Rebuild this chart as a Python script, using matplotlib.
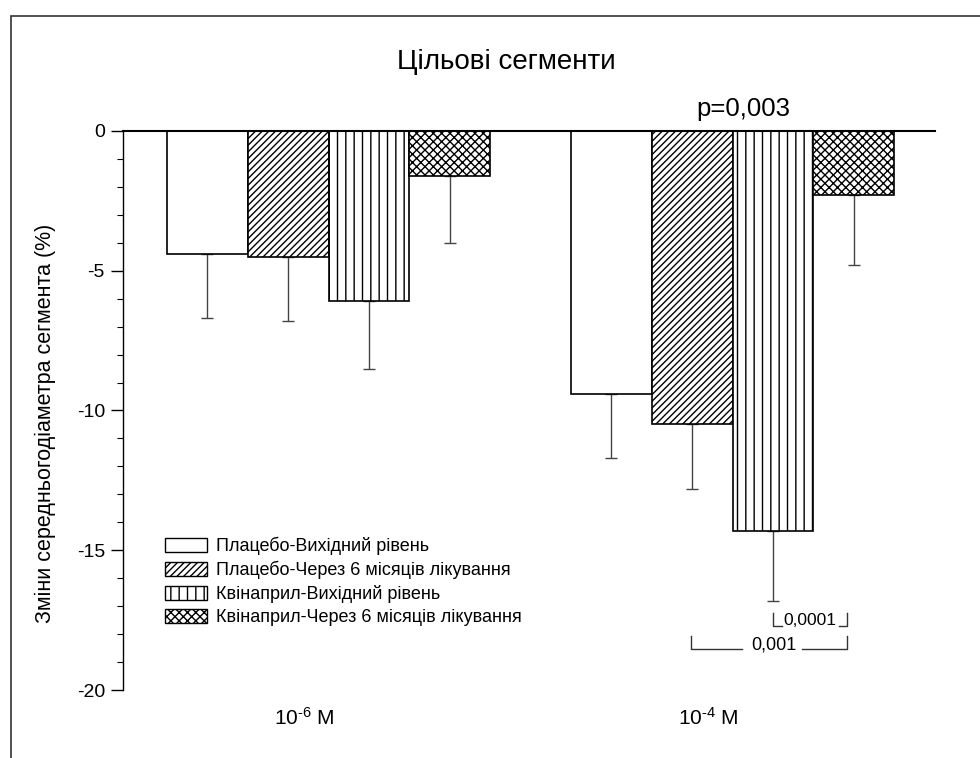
import numpy as np
import matplotlib
matplotlib.use("Agg")
import matplotlib.pyplot as plt
from matplotlib.patches import Patch, Rectangle
from matplotlib.ticker import MultipleLocator

plt.rcParams['font.family'] = ['Liberation Sans', 'DejaVu Sans']
plt.rcParams['mathtext.fontset'] = 'custom'
plt.rcParams['mathtext.rm'] = 'Liberation Sans'
plt.rcParams['mathtext.it'] = 'Liberation Sans'
plt.rcParams['axes.unicode_minus'] = False
plt.rcParams['hatch.linewidth'] = 1.0

# data
groups = ['10$^{\u20106}$ M', '10$^{\u20104}$ M']
series = ["Плацебо-Вихідний рівень",
          "Плацебо-Через 6 місяців лікування",
          "Квінаприл-Вихідний рівень",
          "Квінаприл-Через 6 місяців лікування"]
means = [[-4.4, -9.4],
         [-4.5, -10.5],
         [-6.1, -14.3],
         [-1.6, -2.3]]
errs = [[2.3, 2.3],
        [2.3, 2.3],
        [2.4, 2.5],
        [2.4, 2.5]]
hatches = ['', '/////', '||', 'xxxx']

fig = plt.figure(figsize=(9.8, 7.58), dpi=100)
ax = fig.add_axes([0.1255, 0.0897, 0.8285, 0.7375])

x = np.arange(len(groups))
w = 0.2
for i in range(4):
    pos = x - 1.5 * w + i * w
    ax.bar(pos, means[i], width=w, color='white', edgecolor='black',
           hatch=hatches[i], linewidth=1.2, label=series[i], zorder=2)
    ax.errorbar(pos, means[i], yerr=[errs[i], [0, 0]], fmt='none',
                ecolor='#444444', elinewidth=1.0, capsize=4, capthick=1.0,
                zorder=1)

ax.set_xlim(-0.509, 1.501)
ax.set_ylim(-20, 0)
ax.set_xticks(x - 0.06)
ax.set_xticklabels(groups, fontsize=15)
ax.tick_params(axis='x', length=0, pad=12)
ax.yaxis.set_major_locator(MultipleLocator(5))
ax.yaxis.set_minor_locator(MultipleLocator(1))
ax.tick_params(axis='y', which='major', length=9, width=1.0, labelsize=14, pad=4)
ax.tick_params(axis='y', which='minor', length=4, width=0.8)
ax.spines['right'].set_visible(False)
ax.spines['bottom'].set_visible(False)
ax.spines['top'].set_linewidth(1.5)
ax.spines['left'].set_linewidth(1.0)

handles = [Patch(facecolor='white', edgecolor='black', hatch=h, linewidth=1.0)
           for h in hatches]
ax.legend(handles, series, loc='upper left', bbox_to_anchor=(0.052, 0.274),
          frameon=False, fontsize=13, handlelength=2.3, handleheight=0.8,
          handletextpad=0.5, labelspacing=0.32, borderpad=0, borderaxespad=0)

# significance brackets
k = dict(color='#333333', lw=1.0)
ax.plot([1.100, 1.100, 1.123], [-17.25, -17.71, -17.71], **k)
ax.plot([1.264, 1.283, 1.283], [-17.71, -17.71, -17.25], **k)
ax.text(1.192, -17.5, "0,0001", ha='center', va='center', fontsize=12.5)
ax.plot([0.897, 0.897, 1.024], [-18.07, -18.53, -18.53], **k)
ax.plot([1.172, 1.283, 1.283], [-18.53, -18.53, -18.07], **k)
ax.text(1.103, -18.39, "0,001", ha='center', va='center', fontsize=13)

fig.text(0.517, 0.918, "Цільові сегменти", ha='center', va='center', fontsize=20)
ax.text(1.026, 1.018, "p=0,003", ha='center', va='bottom', fontsize=18.5,
        transform=ax.get_xaxis_transform())
fig.text(0.046, 0.442, "Зміни середньогодіаметра сегмента (%)", rotation=90,
         ha='center', va='center', fontsize=15.5)

# frame around the figure (partly cut off at right/bottom)
fig.add_artist(Rectangle((11 / 980, -0.1), 1.2, 1.1 - 16 / 758,
                         transform=fig.transFigure, fill=False,
                         edgecolor='#333333', linewidth=1.2))

fig.savefig("out.png", dpi=100)
